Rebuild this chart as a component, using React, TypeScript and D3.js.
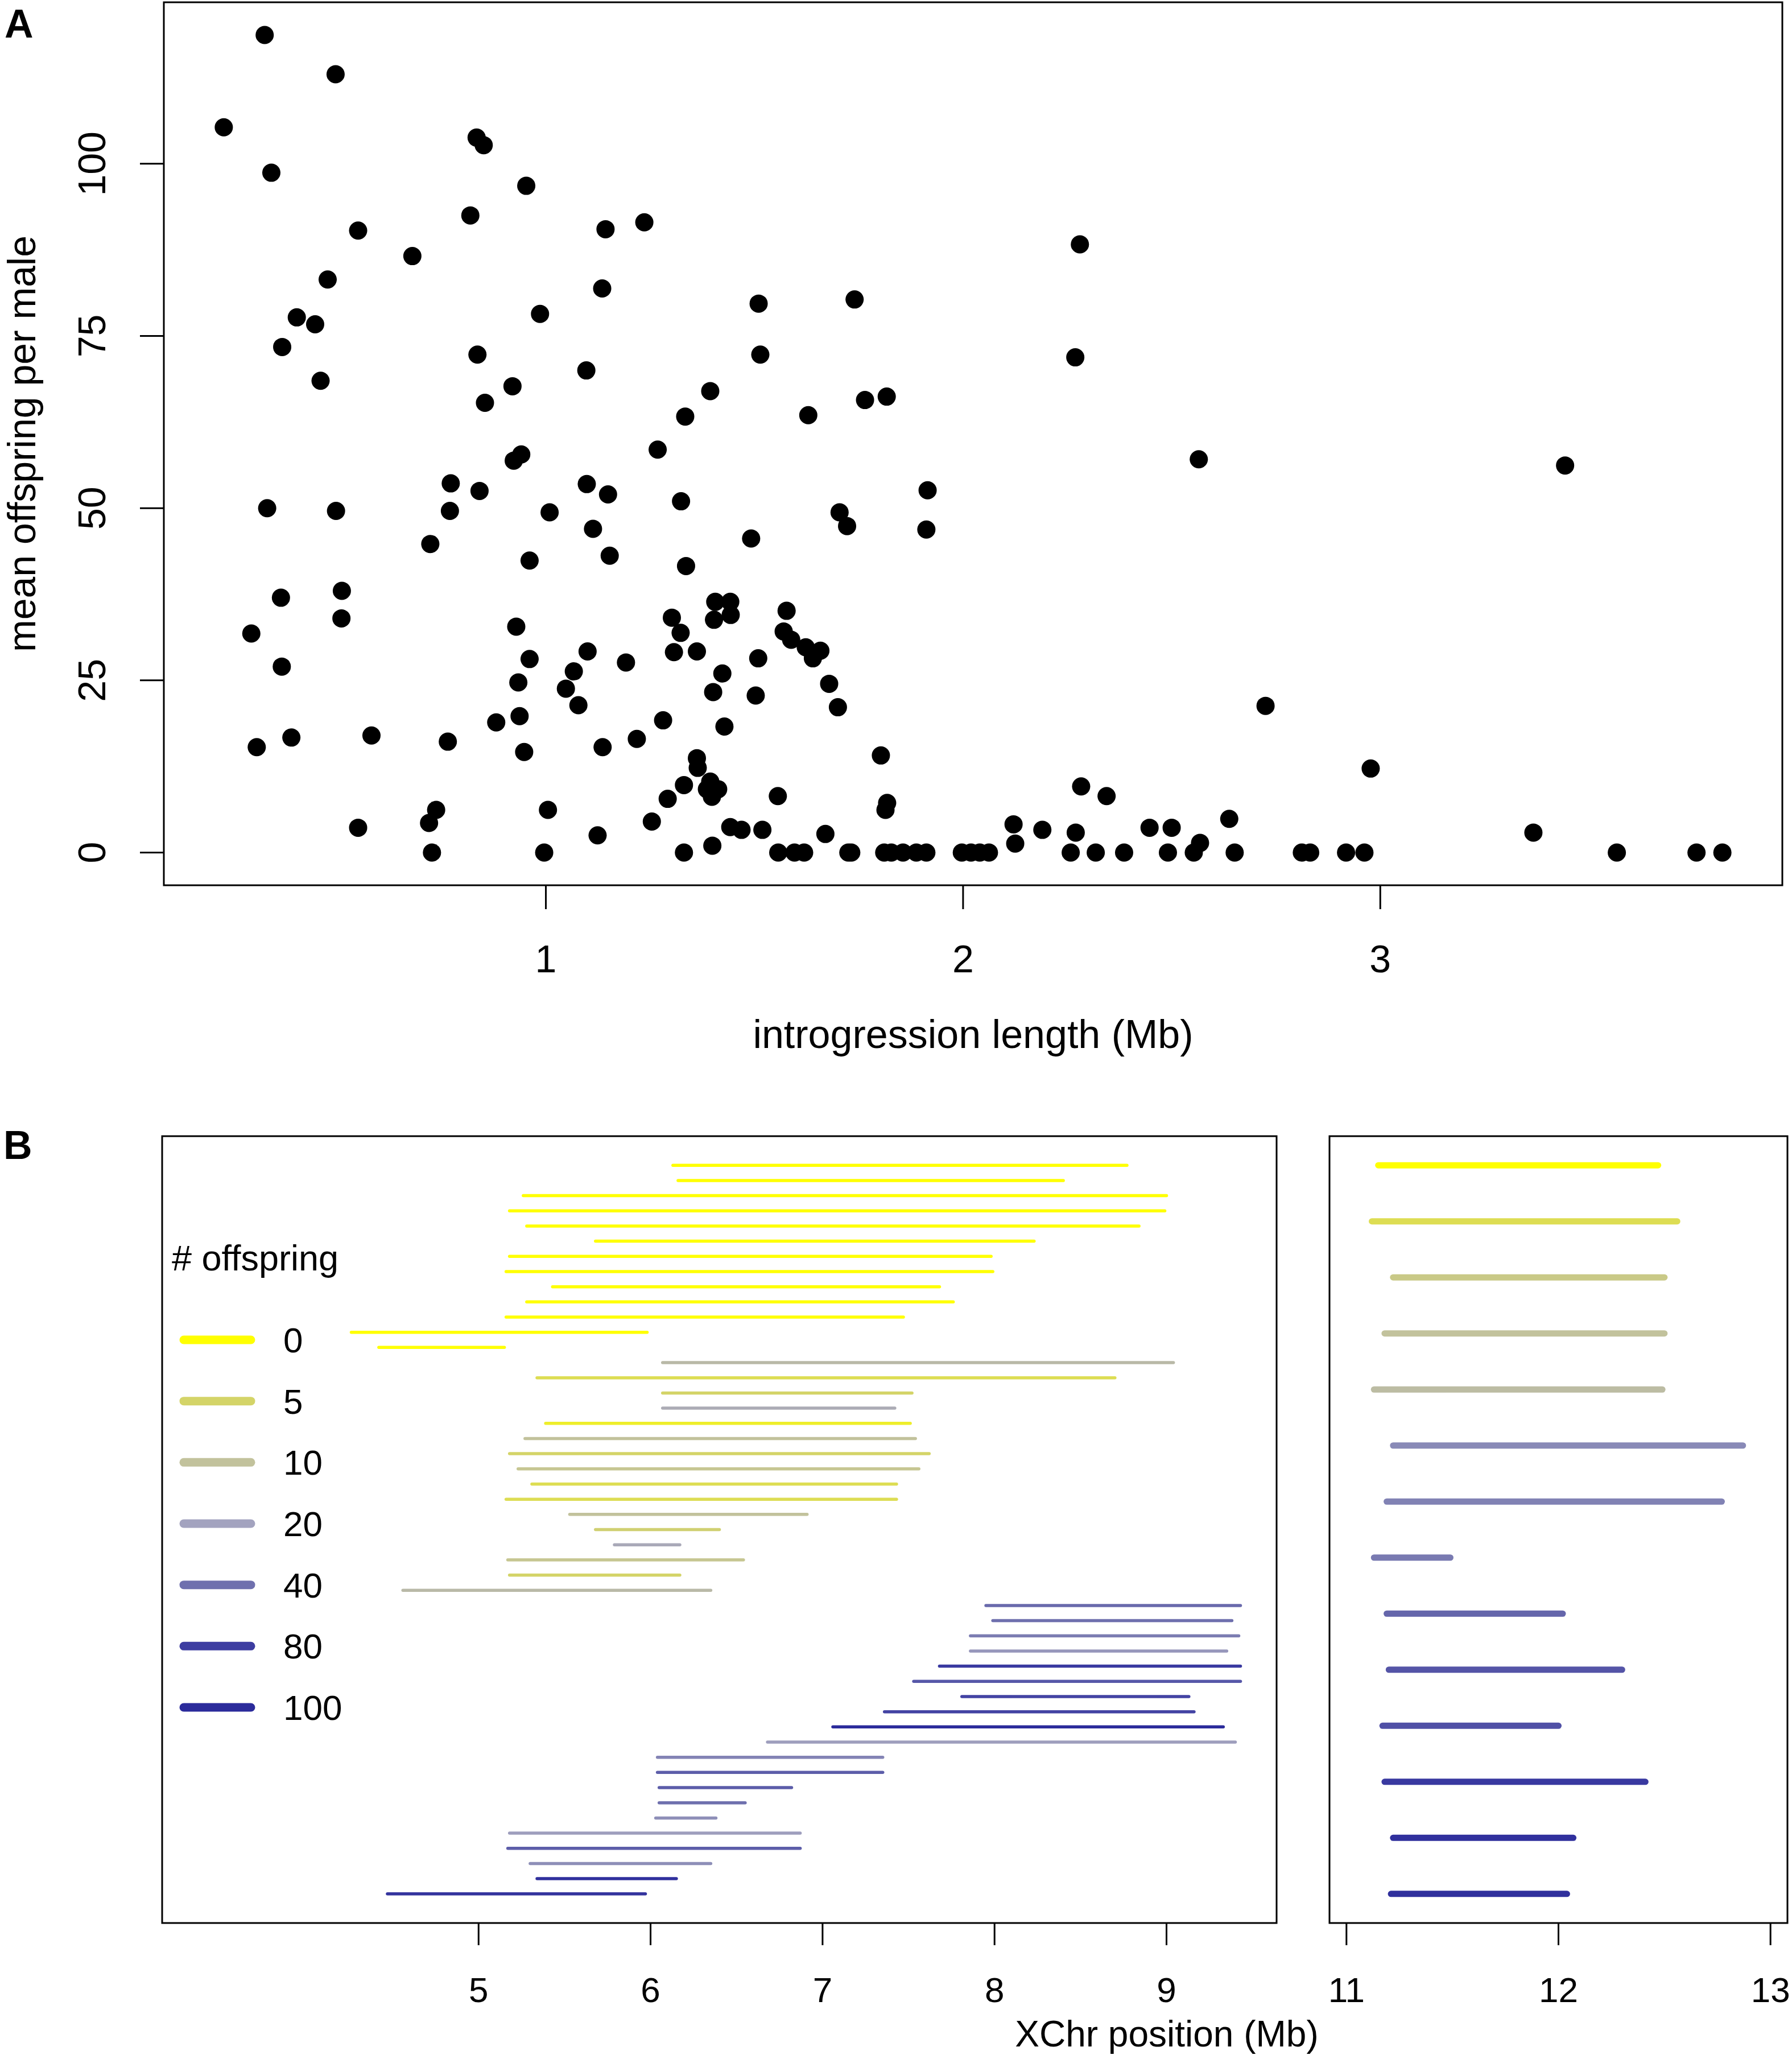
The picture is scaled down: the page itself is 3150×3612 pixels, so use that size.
import * as d3 from 'd3';

// Panel A: one point per introgression line
const introLength = [
  0.228, 0.326, 0.342, 0.496, 0.55, 0.68, 0.477, 0.403, 0.447, 0.368, 0.46, 0.332, 0.497, 0.365, 0.511, 0.51,
  0.294, 0.367, 0.307, 0.39, 0.582, 0.55, 0.723, 0.772, 0.77, 0.819, 0.834, 0.851, 0.953, 0.836, 0.854, 0.841,
  0.92, 0.923, 0.941, 0.986, 1.009, 0.961, 0.929, 0.961, 0.934, 0.937, 0.948, 0.881, 0.765, 0.72, 0.737, 0.727,
  1.005, 0.996, 1.097, 1.135, 1.143, 1.236, 1.098, 1.149, 1.113, 1.153, 1.1, 1.067, 1.048, 1.078, 1.192, 1.136,
  1.124, 1.218, 1.254, 1.281, 1.268, 1.334, 1.394, 1.324, 1.336, 1.302, 1.323, 1.307, 1.362, 1.406, 1.442, 1.403,
  1.443, 1.423, 1.401, 1.428, 1.362, 1.364, 1.331, 1.292, 1.394, 1.386, 1.413, 1.398, 1.399, 1.331, 1.442, 1.469,
  1.492, 1.51, 1.514, 1.509, 1.503, 1.519, 1.629, 1.577, 1.57, 1.588, 1.623, 1.64, 1.658, 1.679, 1.7, 1.67,
  1.556, 1.557, 1.596, 1.619, 1.74, 1.765, 1.817, 1.704, 1.722, 1.725, 1.732, 1.803, 1.818, 1.814, 1.811, 1.828,
  1.856, 1.888, 1.912, 1.912, 1.915, 2.28, 2.269, 2.565, 3.443, 2.725, 2.977, 2.283, 2.344, 2.121, 2.125, 2.19,
  2.27, 2.258, 2.318, 2.386, 2.447, 2.5, 2.491, 2.553, 2.568, 2.638, 2.651, 1.997, 2.019, 2.04, 2.062, 2.812,
  2.832, 2.918, 2.962, 3.367, 3.567, 3.758, 3.82,
];
const meanOffspring = [
  105.3, 118.7, 98.7, 113.0, 90.3, 86.6, 83.2, 77.7, 76.7, 73.4, 68.5, 50.0, 49.6, 37.0, 38.0, 34.0,
  31.8, 27.0, 15.3, 16.7, 17.0, 3.6, 44.8, 53.6, 49.6, 92.5, 103.8, 102.7, 96.8, 72.3, 65.3, 52.5,
  67.7, 56.9, 57.8, 78.2, 49.4, 42.4, 32.8, 28.1, 24.7, 19.8, 14.6, 18.9, 16.1, 4.3, 6.2, 0,
  6.2, 0, 70.0, 81.9, 90.5, 91.5, 53.5, 52.0, 47.0, 43.1, 29.2, 26.3, 23.8, 21.4, 27.6, 15.3,
  2.5, 16.5, 4.5, 19.2, 58.5, 63.3, 67.0, 51.0, 41.6, 34.1, 31.9, 29.1, 29.2, 36.4, 36.4, 33.8,
  34.5, 26.0, 23.3, 18.3, 13.7, 12.3, 9.8, 7.8, 10.3, 9.2, 9.2, 8.1, 1.0, 0, 3.7, 3.3,
  45.6, 79.7, 72.3, 28.2, 22.8, 3.3, 63.5, 35.1, 32.1, 30.9, 29.8, 28.2, 29.3, 24.5, 21.1, 2.7,
  8.2, 0, 0, 0, 80.3, 65.7, 66.2, 49.4, 47.4, 0, 0, 14.1, 7.2, 6.2, 0, 0,
  0, 0, 0, 46.9, 52.6, 88.3, 71.9, 57.1, 56.2, 21.3, 12.2, 9.6, 8.2, 4.1, 1.3, 3.3,
  2.9, 0, 0, 0, 3.6, 3.6, 0, 0, 1.4, 4.9, 0, 0, 0, 0, 0, 0,
  0, 0, 0, 2.9, 0, 0, 0,
];
const scatterXTicks = [1, 2, 3];
const scatterYTicks = [0, 25, 50, 75, 100];

// Panel B, left: introgressions between 4 and 9.5 Mb
const leftStart = [
  6.13, 6.16, 5.26, 5.18, 5.28, 5.68, 5.18, 5.16, 5.43, 5.28, 5.16, 4.26, 4.42,
  6.07, 5.34, 6.07, 6.07, 5.39, 5.27, 5.18, 5.23, 5.31, 5.16, 5.53, 5.68, 5.79, 5.17, 5.18, 4.56,
  7.95, 7.99, 7.86, 7.86, 7.68, 7.53, 7.81, 7.36, 7.06, 6.68,
  6.04, 6.04, 6.05, 6.05, 6.03, 5.18, 5.17, 5.3, 5.34, 4.47,
];
const leftEnd = [
  8.77, 8.4, 9.0, 8.99, 8.84, 8.23, 7.98, 7.99, 7.68, 7.76, 7.47, 5.98, 5.15,
  9.04, 8.7, 7.52, 7.42, 7.51, 7.54, 7.62, 7.56, 7.43, 7.43, 6.91, 6.4, 6.17, 6.54, 6.17, 6.35,
  9.43, 9.38, 9.42, 9.35, 9.43, 9.43, 9.13, 9.16, 9.33, 9.4,
  7.35, 7.35, 6.82, 6.55, 6.38, 6.87, 6.87, 6.35, 6.15, 5.97,
];
const leftOffspring = [
  0, 0, 0, 0, 0, 0, 0, 0, 0, 0, 0, 0, 0,
  13, 4, 5, 17, 2, 10, 5, 9, 4, 4, 10, 6, 18, 9, 5, 13,
  45, 40, 35, 25, 85, 60, 75, 75, 100, 22,
  32, 55, 55, 40, 28, 22, 55, 28, 95, 90,
];
const leftXTicks = [5, 6, 7, 8, 9];
const leftXLim = [3.4, 9.4];

// Panel B, right: introgressions around 11-13 Mb
const rightStart = [11.15, 11.12, 11.22, 11.18, 11.13, 11.22, 11.19, 11.13, 11.19, 11.2, 11.17, 11.18, 11.22, 11.21];
const rightEnd = [12.47, 12.56, 12.5, 12.5, 12.49, 12.87, 12.77, 11.49, 12.02, 12.3, 12.0, 12.41, 12.07, 12.04];
const rightOffspring = [0, 4, 8, 10, 12, 30, 33, 36, 48, 62, 65, 85, 95, 95];
const rightXTicks = [11, 12, 13];
const rightXLim = [11, 13];

const legendValues = [0, 5, 10, 20, 40, 80, 100];
const legendColors = ['#ffff00', '#d4d468', '#c2c29c', '#a3a3bf', '#6f70ae', '#3d3da1', '#2b2b9b'];

const FONT = '"Liberation Sans", Arial, Helvetica, sans-serif';

// R's default axis style: data range widened by 4% on each side
const pad = ([a, b]: number[]) => {
  const r = b - a;
  return [a - 0.04 * r, b + 0.04 * r];
};

const offspringColor = d3.scaleLinear<string>()
  .domain(legendValues)
  .range(legendColors)
  .interpolate(d3.interpolateRgb);

const A = { x0: 288, x1: 3133, y0: 4, y1: 1556 };
const BL = { x0: 285, x1: 2244, y0: 1997, y1: 3380 };
const BR = { x0: 2337, x1: 3142, y0: 1997, y1: 3380 };

const App = () => {
  const xA = d3.scaleLinear().domain(pad(d3.extent(introLength) as number[])).range([A.x0, A.x1]);
  const yA = d3.scaleLinear().domain(pad([0, d3.max(meanOffspring) as number])).range([A.y1, A.y0]);

  const xL = d3.scaleLinear().domain(pad(leftXLim)).range([BL.x0, BL.x1]);
  const yL = d3.scaleLinear().domain(pad([1, leftStart.length])).range([BL.y0, BL.y1]);
  const xR = d3.scaleLinear().domain(pad(rightXLim)).range([BR.x0, BR.x1]);
  const yR = d3.scaleLinear().domain(pad([1, rightStart.length])).range([BR.y0, BR.y1]);

  const legendY = d3.scalePoint<number>().domain(legendValues).range([2355, 3001]);

  return (
    <svg width={3150} height={3612} style={{ position: 'absolute', left: 0, top: 0, background: '#fff' }}
      fontFamily={FONT}>
      {/* ---------- panel A ---------- */}
      <text x={8} y={66} fontSize={70} fontWeight="bold">A</text>
      <rect x={A.x0} y={A.y0} width={A.x1 - A.x0} height={A.y1 - A.y0} fill="none" stroke="#000" strokeWidth={3} />
      {introLength.map((d, i) => (
        <circle key={i} cx={xA(d)} cy={yA(meanOffspring[i])} r={16} fill="#000" />
      ))}
      {scatterXTicks.map(t => (
        <g key={t}>
          <line x1={xA(t)} x2={xA(t)} y1={A.y1} y2={A.y1 + 42} stroke="#000" strokeWidth={3} />
          <text x={xA(t)} y={1709} fontSize={68} textAnchor="middle">{t}</text>
        </g>
      ))}
      {scatterYTicks.map(t => (
        <g key={t}>
          <line x1={A.x0 - 42} x2={A.x0} y1={yA(t)} y2={yA(t)} stroke="#000" strokeWidth={3} />
          <text transform={`translate(185,${yA(t)}) rotate(-90)`} fontSize={68} textAnchor="middle">{t}</text>
        </g>
      ))}
      <text x={(A.x0 + A.x1) / 2} y={1842} fontSize={70} textAnchor="middle">introgression length (Mb)</text>
      <text transform={`translate(62,${(A.y0 + A.y1) / 2}) rotate(-90)`} fontSize={68} textAnchor="middle">
        mean offspring per male
      </text>

      {/* ---------- panel B ---------- */}
      <text x={6} y={2037} fontSize={70} fontWeight="bold">B</text>
      <rect x={BL.x0} y={BL.y0} width={BL.x1 - BL.x0} height={BL.y1 - BL.y0} fill="none" stroke="#000" strokeWidth={3} />
      <rect x={BR.x0} y={BR.y0} width={BR.x1 - BR.x0} height={BR.y1 - BR.y0} fill="none" stroke="#000" strokeWidth={3} />

      {leftStart.map((s, i) => (
        <line key={i} x1={xL(s)} x2={xL(leftEnd[i])} y1={yL(i + 1)} y2={yL(i + 1)}
          stroke={offspringColor(leftOffspring[i])} strokeWidth={5.5} strokeLinecap="round" />
      ))}
      {rightStart.map((s, i) => (
        <line key={i} x1={xR(s)} x2={xR(rightEnd[i])} y1={yR(i + 1)} y2={yR(i + 1)}
          stroke={offspringColor(rightOffspring[i])} strokeWidth={11} strokeLinecap="round" />
      ))}

      {leftXTicks.map(t => (
        <g key={t}>
          <line x1={xL(t)} x2={xL(t)} y1={BL.y1} y2={BL.y1 + 39} stroke="#000" strokeWidth={3} />
          <text x={xL(t)} y={3519} fontSize={62} textAnchor="middle">{t}</text>
        </g>
      ))}
      {rightXTicks.map(t => (
        <g key={t}>
          <line x1={xR(t)} x2={xR(t)} y1={BR.y1} y2={BR.y1 + 39} stroke="#000" strokeWidth={3} />
          <text x={xR(t)} y={3519} fontSize={62} textAnchor="middle">{t}</text>
        </g>
      ))}
      <text x={2051} y={3597} fontSize={64} textAnchor="middle">XChr position (Mb)</text>

      {/* legend */}
      <text x={302} y={2233} fontSize={63}># offspring</text>
      {legendValues.map((v, i) => (
        <g key={v}>
          <line x1={323} x2={441} y1={legendY(v)} y2={legendY(v)} stroke={legendColors[i]}
            strokeWidth={15} strokeLinecap="round" />
          <text x={498} y={(legendY(v) as number) + 22} fontSize={62}>{v}</text>
        </g>
      ))}
    </svg>
  );
};

export default App;
